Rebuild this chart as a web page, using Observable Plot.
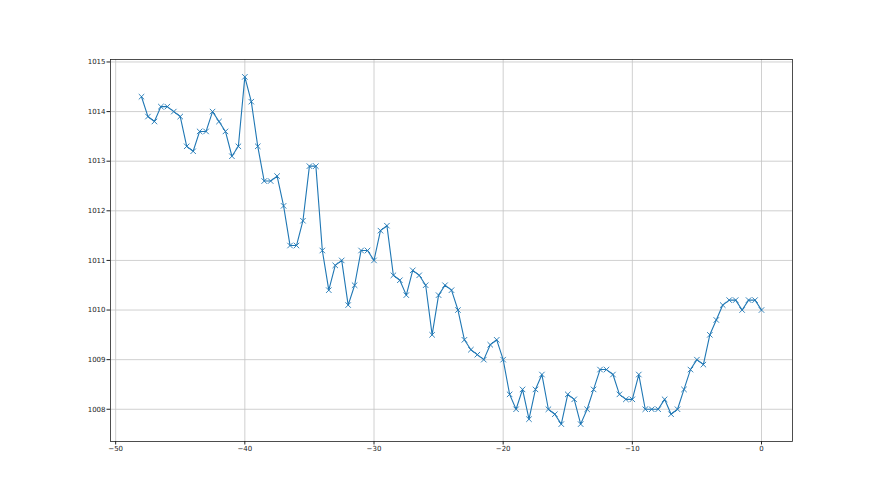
<!DOCTYPE html>
<html>
<head>
<meta charset="utf-8">
<script src="https://cdn.jsdelivr.net/npm/d3@7"></script>
<script src="https://cdn.jsdelivr.net/npm/@observablehq/plot@0.6"></script>
<style>
html, body { margin: 0; padding: 0; background: #fff; }
</style>
</head>
<body>
<div id="chart"></div>
<script>
const xStart = -48;
const xStep = 0.5;
const pressure = [
  1014.3, 1013.9, 1013.8, 1014.1, 1014.1, 1014.0, 1013.9, 1013.3, 1013.2, 1013.6,
  1013.6, 1014.0, 1013.8, 1013.6, 1013.1, 1013.3, 1014.7, 1014.2, 1013.3, 1012.6,
  1012.6, 1012.7, 1012.1, 1011.3, 1011.3, 1011.8, 1012.9, 1012.9, 1011.2, 1010.4,
  1010.9, 1011.0, 1010.1, 1010.5, 1011.2, 1011.2, 1011.0, 1011.6, 1011.7, 1010.7,
  1010.6, 1010.3, 1010.8, 1010.7, 1010.5, 1009.5, 1010.3, 1010.5, 1010.4, 1010.0,
  1009.4, 1009.2, 1009.1, 1009.0, 1009.3, 1009.4, 1009.0, 1008.3, 1008.0, 1008.4,
  1007.8, 1008.4, 1008.7, 1008.0, 1007.9, 1007.7, 1008.3, 1008.2, 1007.7, 1008.0,
  1008.4, 1008.8, 1008.8, 1008.7, 1008.3, 1008.2, 1008.2, 1008.7, 1008.0, 1008.0,
  1008.0, 1008.2, 1007.9, 1008.0, 1008.4, 1008.8, 1009.0, 1008.9, 1009.5, 1009.8,
  1010.1, 1010.2, 1010.2, 1010.0, 1010.2, 1010.2, 1010.0
];
const xTicks = [-50, -40, -30, -20, -10, 0];
const yTicks = [1008, 1009, 1010, 1011, 1012, 1013, 1014, 1015];

const data = pressure.map((v, i) => ({x: xStart + i * xStep, y: v}));
const fmt = d => String(d).replace("-", "\u2212");

const chart = Plot.plot({
  width: 880,
  height: 495,
  marginLeft: 110,
  marginRight: 88,
  marginTop: 59,
  marginBottom: 54,
  style: {fontFamily: "DejaVu Sans", fontSize: "7px", color: "#222", background: "#fff"},
  x: {domain: [-50.4, 2.4], label: null},
  y: {domain: [1007.35, 1015.05], label: null},
  marks: [
    Plot.gridX(xTicks, {stroke: "#c4c4c4", strokeOpacity: 1, strokeWidth: 0.8}),
    Plot.gridY(yTicks, {stroke: "#c4c4c4", strokeOpacity: 1, strokeWidth: 0.8}),
    Plot.line(data, {x: "x", y: "y", stroke: "#1f77b4", strokeWidth: 1.1}),
    Plot.dot(data, {x: "x", y: "y", symbol: "times", r: 2.6, stroke: "#1f77b4", strokeWidth: 0.9}),
    Plot.axisX(xTicks, {tickSize: 3.5, tickPadding: 1.5, fontSize: 7, tickFormat: fmt, stroke: "#222"}),
    Plot.axisY(yTicks, {tickSize: 3.5, tickPadding: 1.5, fontSize: 7, tickFormat: fmt, stroke: "#222"}),
    Plot.frame({stroke: "#222", strokeWidth: 0.8})
  ]
});
document.getElementById("chart").appendChild(chart);
</script>
</body>
</html>
